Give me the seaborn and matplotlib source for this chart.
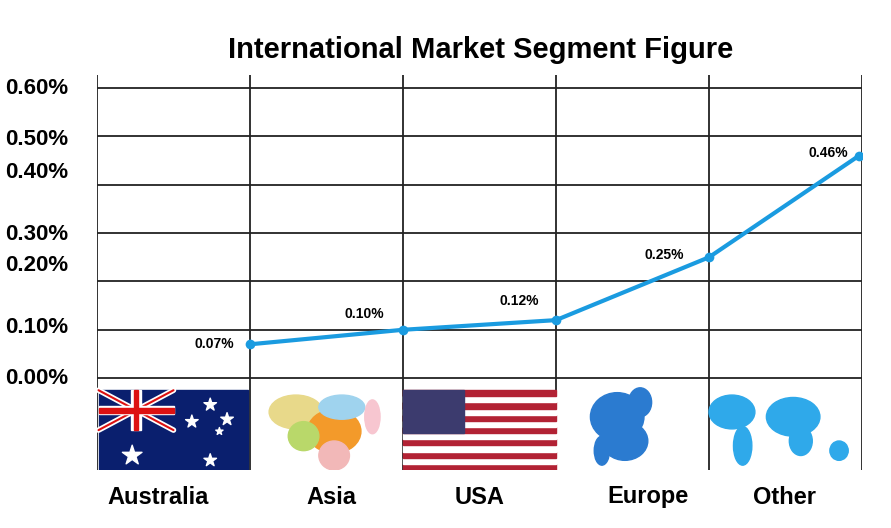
import matplotlib
matplotlib.use("Agg")
import matplotlib.pyplot as plt
import matplotlib.patches as mp
import seaborn as sns
import pandas as pd
import numpy as np

regions = ["Australia", "Asia", "USA", "Europe", "Other"]
shares = [0.07, 0.10, 0.12, 0.25, 0.46]
point_labels = ["0.07%", "0.10%", "0.12%", "0.25%", "0.46%"]
tick_labels = ["0.60%", "0.50%", "0.40%", "0.30%", "0.20%", "0.10%", "0.00%"]
tick_label_pos = [0.604, 0.496, 0.429, 0.298, 0.235, 0.106, 0.0]

sns.set_theme(style="white")
plt.rcParams['font.family'] = ['Liberation Sans', 'DejaVu Sans']
plt.rcParams['text.color'] = 'black'
fig = plt.figure(figsize=(8.91, 5.28), dpi=100)
ax = fig.add_axes([97/891, 1-470/528, (862-97)/891, (470-75)/528])
ax.set_xlim(0, 5)
ax.set_ylim(-0.19, 0.627)
for s in ax.spines.values():
    s.set_visible(False)
ax.set_xticks([]); ax.set_yticks([])

for x in range(6):
    ax.plot([x, x], [-0.19, 0.627], color="#222222", lw=1.3, zorder=1)
for y in np.arange(0, 0.61, 0.1):
    ax.plot([0, 5], [y, y], color="#222222", lw=1.3, zorder=1)

df = pd.DataFrame({"x": [1, 2, 3, 4, 4.98], "share": shares})
sns.lineplot(data=df, x="x", y="share", ax=ax, color="#1a9be0", lw=3,
             marker="o", markersize=7, markeredgewidth=0, zorder=3)
offs = [(-0.23, 0.0), (-0.25, 0.033), (-0.24, 0.04), (-0.29, 0.005), (-0.2, 0.005)]
for (x, y, t), (dx, dy) in zip(zip(df.x, shares, point_labels), offs):
    ax.text(x + dx, y + dy, t, fontsize=10, fontweight="bold", ha="center", va="center",
            color="black", zorder=4)

for t, v in zip(tick_labels, tick_label_pos):
    fig.text(5/891, 1 - (378 - v*480)/528, t, fontsize=16, fontweight="bold", va="center", ha="left",
             color="black")

fig.text(481/891, 1-50/528, "International Market Segment Figure", fontsize=21,
         fontweight="bold", ha="center", va="center", color="black")
for t, px in zip(regions, [158, 331, 480, 648, 785]):
    fig.text(px/891, 1-497/528, t, fontsize=17, fontweight="bold", ha="center", va="center", color="black")

# images region
yb, yt = -0.19, -0.025
# Australia flag
ax.add_patch(mp.Rectangle((0.01, yb), 0.98, yt-yb, color="#0a1f6e", zorder=2))
ax.plot([0.01, 0.5], [(yb+yt)/2, yt], color="white", lw=4, zorder=2)
ax.plot([0.01, 0.5], [yt, (yb+yt)/2], color="white", lw=4, zorder=2)
ax.plot([0.01, 0.5], [(yb+yt)/2, yt], color="#d11", lw=1.5, zorder=2)
ax.plot([0.01, 0.5], [yt, (yb+yt)/2], color="#d11", lw=1.5, zorder=2)
ax.add_patch(mp.Rectangle((0.01, (yb+yt)/2+0.033), 0.49, 0.016, color="white", zorder=2))
ax.add_patch(mp.Rectangle((0.225, (yb+yt)/2), 0.06, (yt-yb)/2, color="white", zorder=2))
ax.add_patch(mp.Rectangle((0.01, (yb+yt)/2+0.036), 0.49, 0.01, color="#d11", zorder=2))
ax.add_patch(mp.Rectangle((0.24, (yb+yt)/2), 0.03, (yt-yb)/2, color="#d11", zorder=2))
ax.scatter([0.23, 0.74, 0.62, 0.85, 0.74, 0.8], [-0.16, -0.055, -0.09, -0.085, -0.17, -0.11],
           marker="*", s=[220, 90, 90, 90, 90, 30], color="white", zorder=3)
# Asia map
for (cx, cy, w, h, c) in [(1.3, -0.07, 0.35, 0.07, "#e8d98a"), (1.55, -0.11, 0.35, 0.09, "#f39a2a"),
                           (1.35, -0.12, 0.2, 0.06, "#b9d86a"), (1.6, -0.06, 0.3, 0.05, "#9fd3ee"),
                           (1.55, -0.16, 0.2, 0.06, "#f2b8b8"), (1.8, -0.08, 0.1, 0.07, "#f7c6d0")]:
    ax.add_patch(mp.Ellipse((cx, cy), w, h, color=c, zorder=2))
# USA flag
sh = (yt - yb) / 13
for i in range(13):
    ax.add_patch(mp.Rectangle((2.0, yb + i*sh), 1.0, sh, color="#b22234" if i % 2 == 0 else "white", zorder=2))
ax.add_patch(mp.Rectangle((2.0, yb + 6*sh), 0.4, 7*sh, color="#3c3b6e", zorder=2))
# Europe
for (cx, cy, w, h) in [(3.4, -0.08, 0.35, 0.1), (3.45, -0.13, 0.3, 0.08), (3.55, -0.05, 0.15, 0.06), (3.3, -0.15, 0.1, 0.06)]:
    ax.add_patch(mp.Ellipse((cx, cy), w, h, color="#2b7bd0", zorder=2))
# World
for (cx, cy, w, h) in [(4.15, -0.07, 0.3, 0.07), (4.22, -0.14, 0.12, 0.08), (4.55, -0.08, 0.35, 0.08),
                       (4.6, -0.13, 0.15, 0.06), (4.85, -0.15, 0.12, 0.04)]:
    ax.add_patch(mp.Ellipse((cx, cy), w, h, color="#2fa9ea", zorder=2))

fig.savefig("out.png", dpi=100)
